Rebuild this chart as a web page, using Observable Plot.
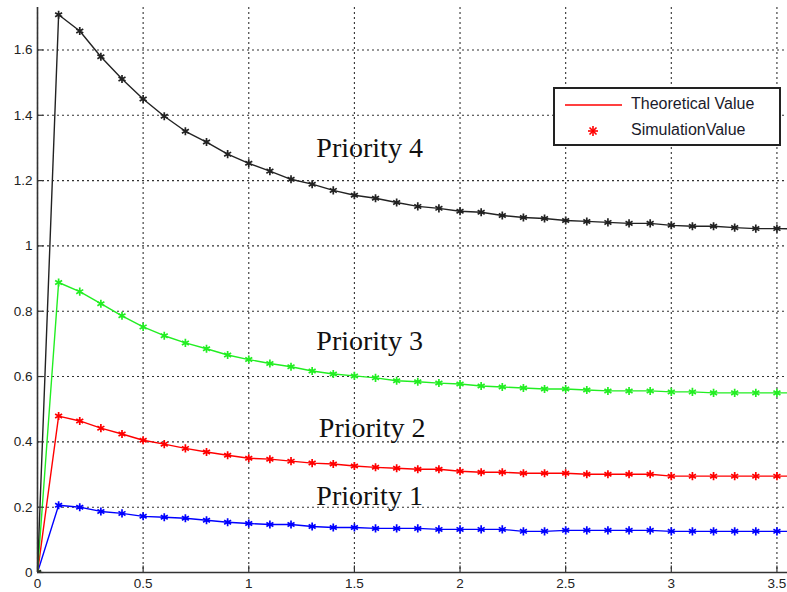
<!DOCTYPE html>
<html><head><meta charset="utf-8">
<script src="https://cdn.jsdelivr.net/npm/d3@7"></script>
<script src="https://cdn.jsdelivr.net/npm/@observablehq/plot@0.6"></script>
<style>
body{margin:0;background:#fff;}
#wrap{position:relative;width:787px;height:592px;overflow:hidden;}
#legend{position:absolute;left:553px;top:87px;width:224px;height:55px;border:2px solid #222;background:#fff;font-family:"Liberation Sans",Arial,sans-serif;font-size:16px;color:#1a1a2a;}
#legend .row{position:absolute;left:0;height:20px;width:100%;}
#legend .lbl{position:absolute;left:76px;top:0px;white-space:nowrap;}
</style></head><body><div id="wrap"></div>
<script>
const t = [0,0.1,0.2,0.3,0.4,0.5,0.6,0.7,0.8,0.9,1.0,1.1,1.2,1.3,1.4,1.5,1.6,1.7,1.8,1.9,2.0,2.1,2.2,2.3,2.4,2.5,2.6,2.7,2.8,2.9,3.0,3.1,3.2,3.3,3.4,3.5,3.6];
const priority1 = [0,0.206,0.200,0.187,0.181,0.172,0.169,0.166,0.160,0.154,0.150,0.147,0.147,0.141,0.138,0.138,0.135,0.135,0.135,0.132,0.132,0.132,0.132,0.126,0.126,0.129,0.129,0.129,0.129,0.129,0.126,0.126,0.126,0.126,0.126,0.126,0.126];
const priority2 = [0,0.479,0.464,0.442,0.424,0.405,0.393,0.380,0.369,0.359,0.350,0.347,0.341,0.335,0.332,0.326,0.322,0.319,0.316,0.316,0.310,0.307,0.307,0.304,0.304,0.304,0.301,0.301,0.301,0.301,0.295,0.295,0.295,0.295,0.295,0.295,0.295];
const priority3 = [0,0.888,0.860,0.823,0.786,0.752,0.725,0.703,0.685,0.666,0.652,0.640,0.630,0.617,0.608,0.602,0.596,0.587,0.584,0.580,0.577,0.571,0.568,0.565,0.562,0.562,0.559,0.556,0.556,0.556,0.553,0.553,0.550,0.550,0.550,0.550,0.550];
const priority4 = [0,1.708,1.658,1.579,1.511,1.450,1.397,1.351,1.318,1.281,1.253,1.229,1.204,1.189,1.170,1.155,1.146,1.133,1.121,1.115,1.106,1.103,1.093,1.087,1.084,1.078,1.075,1.072,1.069,1.069,1.063,1.060,1.060,1.056,1.053,1.053,1.052];
const seriesNames = ["Priority 1","Priority 2","Priority 3","Priority 4"];
const seriesColors = ["#0000ff","#ff0000","#22ee22","#222222"];
const xTicks = [0,0.5,1,1.5,2,2.5,3,3.5];
const yTicks = [0,0.2,0.4,0.6,0.8,1,1.2,1.4,1.6];
const labelX = [1.572,1.584,1.572,1.572];
const labelY = [0.206,0.415,0.682,1.271];
const legendLabels = ["Theoretical Value","SimulationValue"];

const allSeries = [priority1,priority2,priority3,priority4];
const rows = [];
allSeries.forEach((vals,si)=>vals.forEach((v,i)=>rows.push({t:t[i],v,series:seriesNames[si],color:seriesColors[si]})));
const labels = seriesNames.map((s,i)=>({x:labelX[i],y:labelY[i],text:s}));

const chart = Plot.plot({
  width:787,height:592,marginLeft:37,marginRight:0,marginTop:7,marginBottom:20,
  style:{fontFamily:"'Liberation Sans',Arial,sans-serif",background:"#fff"},
  x:{domain:[0,3.55]},
  y:{domain:[0,1.73]},
  color:{type:"identity"},
  marks:[
    Plot.gridX(xTicks,{stroke:"#333",strokeOpacity:1,strokeWidth:1.1,strokeDasharray:"2,3"}),
    Plot.gridY(yTicks,{stroke:"#333",strokeOpacity:1,strokeWidth:1.1,strokeDasharray:"2,3"}),
    Plot.line(rows,{x:"t",y:"v",z:"series",stroke:"color",strokeWidth:1.4,clip:true}),
    Plot.dot(rows,{x:"t",y:"v",stroke:"color",symbol:"asterisk",r:3.8,strokeWidth:1.7,clip:true}),
    Plot.text(labels,{x:"x",y:"y",text:"text",fontFamily:"'Liberation Serif','Times New Roman',serif",fontSize:28,lineAnchor:"bottom",fill:"#111"}),
    Plot.ruleX([0],{stroke:"#333",strokeWidth:1.6}),
    Plot.ruleY([0],{stroke:"#333",strokeWidth:1.6}),
    Plot.ruleY(yTicks,{x1:0,x2:0.03,stroke:"#333",strokeWidth:1.2}),
    Plot.ruleX(xTicks,{y1:0,y2:0.02,stroke:"#333",strokeWidth:1.2}),
    Plot.axisX(xTicks,{tickSize:0,tickPadding:6,fontSize:13.5,fill:"#222",tickFormat:d=>String(d),label:null}),
    Plot.axisY(yTicks,{tickSize:0,tickPadding:5,fontSize:13.5,fill:"#222",tickFormat:d=>String(d),label:null})
  ]
});
const wrap = document.getElementById("wrap");
wrap.appendChild(chart);

const legend = document.createElement("div");
legend.id = "legend";
legend.innerHTML = `
<div class="row" style="top:6px">
  <svg width="70" height="20" style="position:absolute;left:0;top:0"><line x1="10" x2="67" y1="10" y2="10" stroke="${seriesColors[1]}" stroke-width="1.5"/></svg>
  <span class="lbl">${legendLabels[0]}</span>
</div>
<div class="row" style="top:32px">
  <svg width="70" height="20" style="position:absolute;left:0;top:0"><g stroke="${seriesColors[1]}" stroke-width="1.6"><line x1="38" x2="38" y1="5" y2="15"/><line x1="33" x2="43" y1="10" y2="10"/><line x1="34.5" x2="41.5" y1="6.5" y2="13.5"/><line x1="34.5" x2="41.5" y1="13.5" y2="6.5"/></g></svg>
  <span class="lbl">${legendLabels[1]}</span>
</div>`;
wrap.appendChild(legend);
</script></body></html>
